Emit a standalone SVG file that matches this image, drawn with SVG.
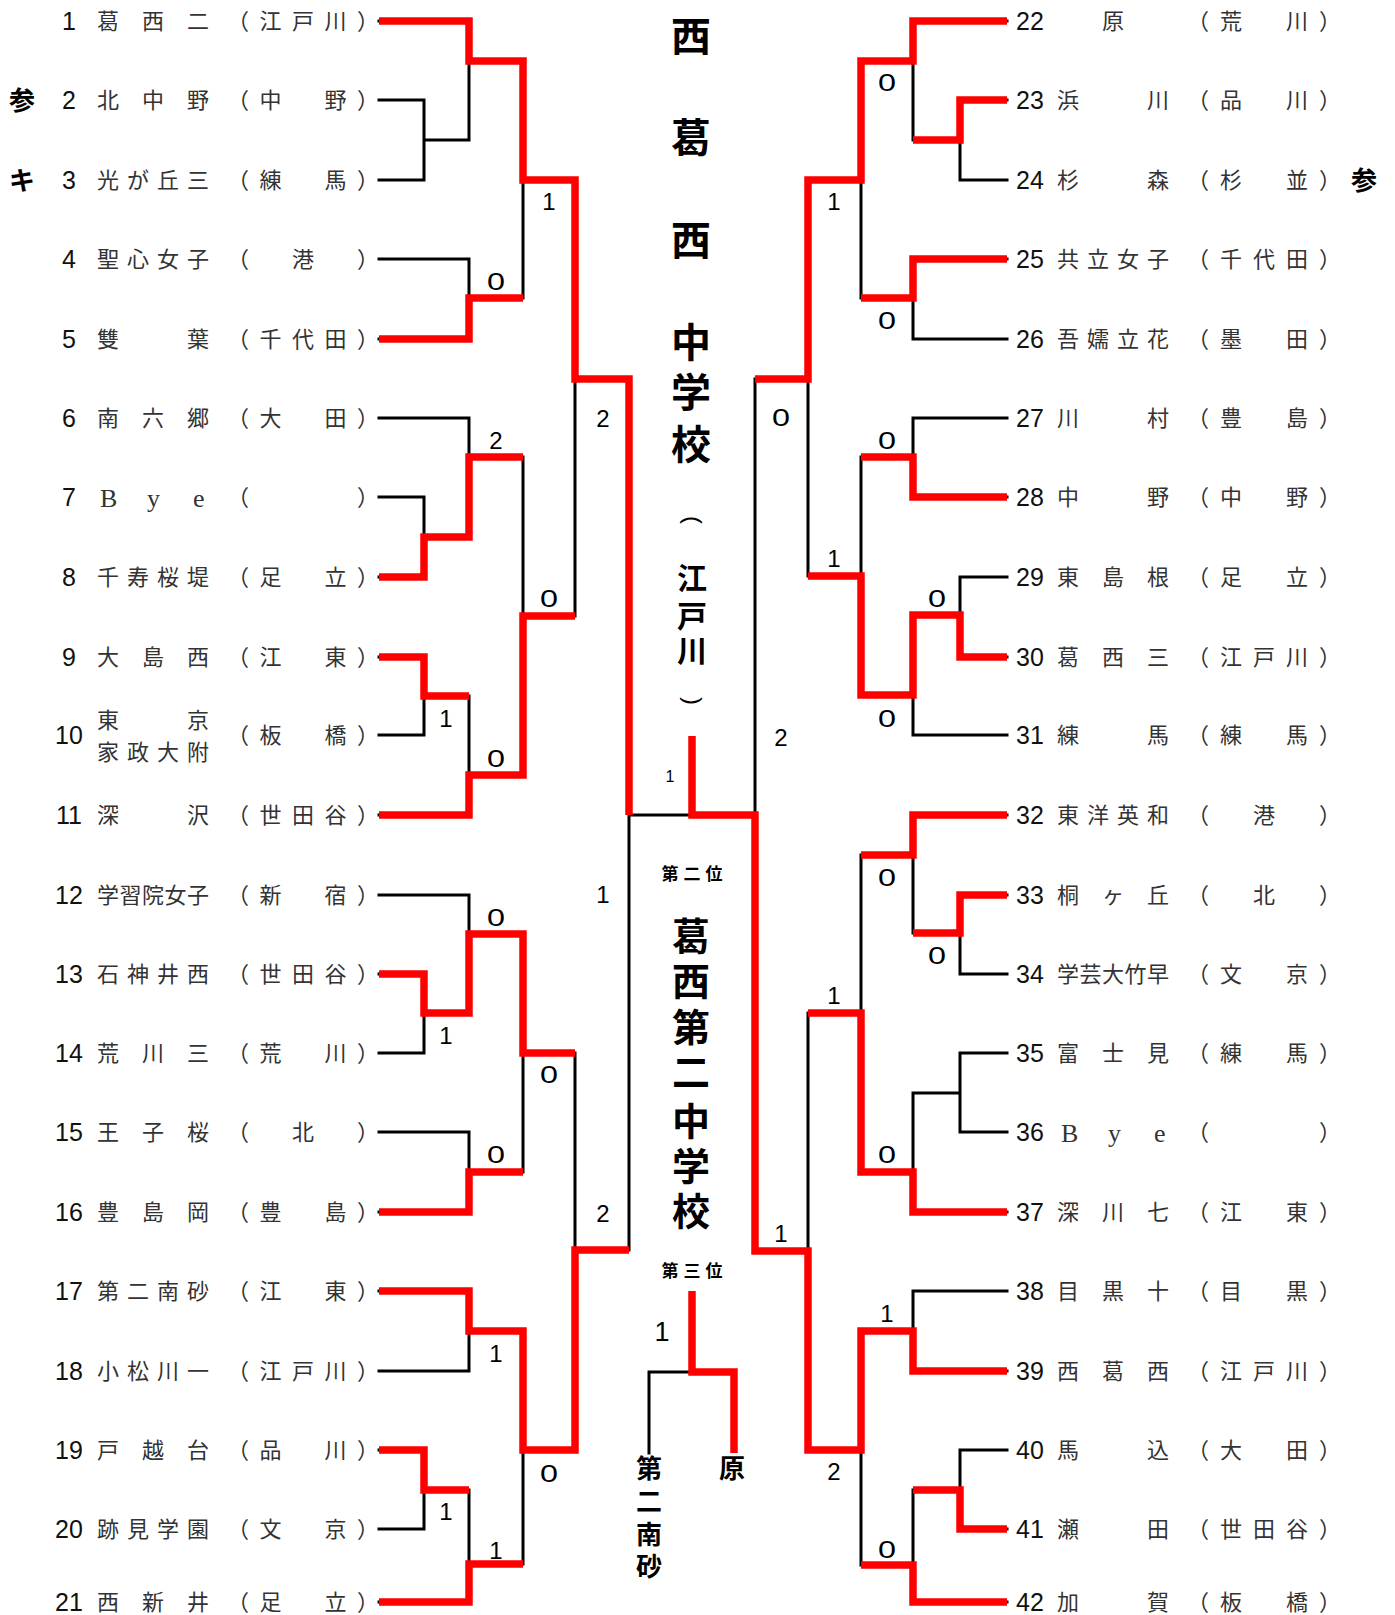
<svg xmlns="http://www.w3.org/2000/svg" width="1395" height="1615" viewBox="0 0 1395 1615">
<style>
.k{stroke:#000;stroke-width:3;fill:none;stroke-linecap:square}
.r{stroke:#f00;stroke-width:7.5;fill:none;stroke-linejoin:miter;stroke-linecap:butt}
.n{font-family:"Liberation Sans",Arial,sans-serif;font-size:25px;fill:#111;text-anchor:middle}
.j{font-family:"Noto Sans CJK JP",sans-serif;font-size:22px;fill:#333}
.b{font-family:"Liberation Serif",serif;font-size:26px;fill:#333}
.s{font-family:"Liberation Sans",Arial,sans-serif;font-size:24px;fill:#000;text-anchor:middle}
.t{font-family:"Noto Sans CJK JP",sans-serif;font-weight:bold;fill:#000;text-anchor:middle}
</style>
<rect width="1395" height="1615" fill="#fff"/>

<g id="connectors">
<path class="k" d="M379 21H469M379 100H424M379 180H424M379 259H469M379 339H469M379 418H469M379 497H424M379 577H424M379 657H424M379 735H424M379 815H469M379 895H469M379 974H424M379 1053H424M379 1132H469M379 1212H469M379 1291H469M379 1371H469M379 1450H424M379 1529H424M379 1602H469
M424 100V180M424 140H469M424 497V577M424 537H469M424 657V735M424 696H469M424 974V1053M424 1013H469M424 1450V1529M424 1490H469
M469 21V140M469 61H523M469 259V339M469 298H523M469 418V537M469 457H523M469 696V815M469 775H523M469 895V1013M469 934H523M469 1132V1212M469 1172H523M469 1291V1371M469 1331H523M469 1490V1602M469 1564H523
M523 61V298M523 180H575M523 457V775M523 616H575M523 934V1172M523 1053H575M523 1331V1564M523 1450H575
M575 180V616M575 379H629M575 1053V1450M575 1250H629
M629 379V1250M629 815H692"/>
<path class="k" d="M1007 21H913M1007 100H960M1007 180H960M1007 259H913M1007 339H913M1007 418H913M1007 497H913M1007 577H960M1007 657H960M1007 735H913M1007 815H913M1007 895H960M1007 974H960M1007 1053H960M1007 1132H960M1007 1212H913M1007 1291H913M1007 1371H913M1007 1450H960M1007 1529H960M1007 1602H913
M960 100V180M960 140H913M960 577V657M960 615H913M960 895V974M960 933H913M960 1053V1132M960 1093H913M960 1450V1529M960 1490H913
M913 21V140M913 61H861M913 259V339M913 298H861M913 418V497M913 457H861M913 615V735M913 695H861M913 815V933M913 855H861M913 1093V1212M913 1172H861M913 1291V1371M913 1331H861M913 1490V1602M913 1565H861
M861 61V298M861 180H808M861 457V695M861 576H808M861 855V1172M861 1013H808M861 1331V1565M861 1450H808
M808 180V576M808 379H755M808 1013V1450M808 1251H755
M755 379V1251M755 815H692"/>
<path class="k" d="M649 1453V1372H692"/>
<g id="winners">
<polyline class="r" points="379,21 469,21 469,61 523,61 523,180 575,180 575,379 629,379 629,815"/>
<polyline class="r" points="379,339 469,339 469,298 523,298"/>
<polyline class="r" points="379,577 424,577 424,537 469,537 469,457 523,457"/>
<polyline class="r" points="379,657 424,657 424,696 469,696"/>
<polyline class="r" points="379,815 469,815 469,775 523,775 523,616 575,616"/>
<polyline class="r" points="379,974 424,974 424,1013 469,1013 469,934 523,934 523,1053 575,1053"/>
<polyline class="r" points="379,1212 469,1212 469,1172 523,1172"/>
<polyline class="r" points="379,1291 469,1291 469,1331 523,1331 523,1450 575,1450 575,1250 629,1250"/>
<polyline class="r" points="379,1450 424,1450 424,1490 469,1490"/>
<polyline class="r" points="379,1602 469,1602 469,1564 523,1564"/>
<polyline class="r" points="1007,21 913,21 913,61 861,61 861,180 808,180 808,379 755,379"/>
<polyline class="r" points="1007,100 960,100 960,140 913,140"/>
<polyline class="r" points="1007,259 913,259 913,298 861,298"/>
<polyline class="r" points="1007,497 913,497 913,457 861,457"/>
<polyline class="r" points="1007,657 960,657 960,615 913,615 913,695 861,695 861,576 808,576"/>
<polyline class="r" points="1007,815 913,815 913,855 861,855"/>
<polyline class="r" points="1007,895 960,895 960,933 913,933"/>
<polyline class="r" points="1007,1212 913,1212 913,1172 861,1172 861,1013 808,1013"/>
<polyline class="r" points="1007,1371 913,1371 913,1331 861,1331 861,1450 808,1450 808,1251 755,1251 755,815 692,815 692,736"/>
<polyline class="r" points="1007,1529 960,1529 960,1490 913,1490"/>
<polyline class="r" points="1007,1602 913,1602 913,1565 861,1565"/>
<polyline class="r" points="734,1453 734,1372 692,1372 692,1291"/>
</g>
</g>

<g id="scores">
<text class="s" x="549" y="210">1</text>
<text class="s" x="496" y="290" textLength="18" lengthAdjust="spacingAndGlyphs">0</text>
<text class="s" x="603" y="427">2</text>
<text class="s" x="496" y="449">2</text>
<text class="s" x="549" y="607" textLength="18" lengthAdjust="spacingAndGlyphs">0</text>
<text class="s" x="446" y="727">1</text>
<text class="s" x="496" y="767" textLength="18" lengthAdjust="spacingAndGlyphs">0</text>
<text class="s" x="603" y="903">1</text>
<text class="s" x="496" y="926" textLength="18" lengthAdjust="spacingAndGlyphs">0</text>
<text class="s" x="446" y="1044">1</text>
<text class="s" x="549" y="1083" textLength="18" lengthAdjust="spacingAndGlyphs">0</text>
<text class="s" x="496" y="1163" textLength="18" lengthAdjust="spacingAndGlyphs">0</text>
<text class="s" x="603" y="1222">2</text>
<text class="s" x="496" y="1362">1</text>
<text class="s" x="549" y="1482" textLength="18" lengthAdjust="spacingAndGlyphs">0</text>
<text class="s" x="446" y="1520">1</text>
<text class="s" x="496" y="1559">1</text>
<text class="s" x="887" y="91" textLength="18" lengthAdjust="spacingAndGlyphs">0</text>
<text class="s" x="834" y="210">1</text>
<text class="s" x="887" y="329" textLength="18" lengthAdjust="spacingAndGlyphs">0</text>
<text class="s" x="781" y="426" textLength="18" lengthAdjust="spacingAndGlyphs">0</text>
<text class="s" x="887" y="449" textLength="18" lengthAdjust="spacingAndGlyphs">0</text>
<text class="s" x="834" y="567">1</text>
<text class="s" x="937" y="607" textLength="18" lengthAdjust="spacingAndGlyphs">0</text>
<text class="s" x="887" y="727" textLength="18" lengthAdjust="spacingAndGlyphs">0</text>
<text class="s" x="781" y="746">2</text>
<text class="s" x="887" y="886" textLength="18" lengthAdjust="spacingAndGlyphs">0</text>
<text class="s" x="937" y="964" textLength="18" lengthAdjust="spacingAndGlyphs">0</text>
<text class="s" x="834" y="1004">1</text>
<text class="s" x="887" y="1163" textLength="18" lengthAdjust="spacingAndGlyphs">0</text>
<text class="s" x="781" y="1242">1</text>
<text class="s" x="887" y="1322">1</text>
<text class="s" x="834" y="1480">2</text>
<text class="s" x="887" y="1558" textLength="18" lengthAdjust="spacingAndGlyphs">0</text>
<text class="s" x="670" y="782" style="font-size:16px">1</text>
<text class="s" x="662" y="1341" style="font-size:27px">1</text>
</g>

<g id="champion">
<text class="t" style="font-size:40px" x="691 691 691 691 691 691" y="51 152 255 357 407 459">西葛西中学校</text>
<text class="t" style="font-size:24px;font-family:'Liberation Sans',sans-serif;font-weight:normal" transform="translate(691,520) rotate(90)" x="0" y="6">(</text>
<text class="t" style="font-size:30px" x="692 692 692" y="589 627 662">江戸川</text>
<text class="t" style="font-size:24px;font-family:'Liberation Sans',sans-serif;font-weight:normal" transform="translate(691,701) rotate(90)" x="0" y="6">)</text>
</g>
<g id="runner-up">
<text class="t" style="font-size:17px" x="670 692 714" y="880 880 880">第二位</text>
<text class="t" style="font-size:38px" x="691 691 691 691 691 691 691" y="950 995 1041 1086 1135 1180 1225">葛西第二中学校</text>
</g>
<g id="third-place">
<text class="t" style="font-size:17px" x="670 692 714" y="1277 1277 1277">第三位</text>
<text class="t" style="font-size:26px" x="649 649 649 649" y="1478 1511 1544 1576">第二南砂</text>
<text class="t" style="font-size:26px" x="732" y="1478">原</text>
</g>
<g id="marks">
<text class="t" style="font-size:26px" x="22" y="110">参</text>
<text class="t" style="font-size:26px" x="22" y="190">キ</text>
<text class="t" style="font-size:26px" x="1364" y="190">参</text>
</g>

<g id="team-1"><text class="n" x="69" y="30">1</text><text class="j" x="97 142 187" y="29">葛西二</text><text class="j" x="227 259.5 292 324.5 357" y="29">（江戸川）</text></g>
<g id="team-2"><text class="n" x="69" y="109">2</text><text class="j" x="97 142 187" y="108">北中野</text><text class="j" x="227 259.5 292 324.5 357" y="108">（中　野）</text></g>
<g id="team-3"><text class="n" x="69" y="189">3</text><text class="j" x="97 127 157 187" y="188">光が丘三</text><text class="j" x="227 259.5 292 324.5 357" y="188">（練　馬）</text></g>
<g id="team-4"><text class="n" x="69" y="268">4</text><text class="j" x="97 127 157 187" y="267">聖心女子</text><text class="j" x="227 259.5 292 324.5 357" y="267">（　港　）</text></g>
<g id="team-5"><text class="n" x="69" y="348">5</text><text class="j" x="97 187" y="347">雙葉</text><text class="j" x="227 259.5 292 324.5 357" y="347">（千代田）</text></g>
<g id="team-6"><text class="n" x="69" y="427">6</text><text class="j" x="97 142 187" y="426">南六郷</text><text class="j" x="227 259.5 292 324.5 357" y="426">（大　田）</text></g>
<g id="team-7"><text class="n" x="69" y="506">7</text><text class="b" x="100 147 193" y="507">Bye</text><text class="j" x="227 259.5 292 324.5 357" y="505">（　　　）</text></g>
<g id="team-8"><text class="n" x="69" y="586">8</text><text class="j" x="97 127 157 187" y="585">千寿桜堤</text><text class="j" x="227 259.5 292 324.5 357" y="585">（足　立）</text></g>
<g id="team-9"><text class="n" x="69" y="666">9</text><text class="j" x="97 142 187" y="665">大島西</text><text class="j" x="227 259.5 292 324.5 357" y="665">（江　東）</text></g>
<g id="team-10"><text class="n" x="69" y="744">10</text><text class="j" x="97 187" y="728">東京</text><text class="j" x="97 127 157 187" y="760">家政大附</text><text class="j" x="227 259.5 292 324.5 357" y="743">（板　橋）</text></g>
<g id="team-11"><text class="n" x="69" y="824">11</text><text class="j" x="97 187" y="823">深沢</text><text class="j" x="227 259.5 292 324.5 357" y="823">（世田谷）</text></g>
<g id="team-12"><text class="n" x="69" y="904">12</text><text class="j" x="97 119.5 142 164.5 187" y="903">学習院女子</text><text class="j" x="227 259.5 292 324.5 357" y="903">（新　宿）</text></g>
<g id="team-13"><text class="n" x="69" y="983">13</text><text class="j" x="97 127 157 187" y="982">石神井西</text><text class="j" x="227 259.5 292 324.5 357" y="982">（世田谷）</text></g>
<g id="team-14"><text class="n" x="69" y="1062">14</text><text class="j" x="97 142 187" y="1061">荒川三</text><text class="j" x="227 259.5 292 324.5 357" y="1061">（荒　川）</text></g>
<g id="team-15"><text class="n" x="69" y="1141">15</text><text class="j" x="97 142 187" y="1140">王子桜</text><text class="j" x="227 259.5 292 324.5 357" y="1140">（　北　）</text></g>
<g id="team-16"><text class="n" x="69" y="1221">16</text><text class="j" x="97 142 187" y="1220">豊島岡</text><text class="j" x="227 259.5 292 324.5 357" y="1220">（豊　島）</text></g>
<g id="team-17"><text class="n" x="69" y="1300">17</text><text class="j" x="97 127 157 187" y="1299">第二南砂</text><text class="j" x="227 259.5 292 324.5 357" y="1299">（江　東）</text></g>
<g id="team-18"><text class="n" x="69" y="1380">18</text><text class="j" x="97 127 157 187" y="1379">小松川一</text><text class="j" x="227 259.5 292 324.5 357" y="1379">（江戸川）</text></g>
<g id="team-19"><text class="n" x="69" y="1459">19</text><text class="j" x="97 142 187" y="1458">戸越台</text><text class="j" x="227 259.5 292 324.5 357" y="1458">（品　川）</text></g>
<g id="team-20"><text class="n" x="69" y="1538">20</text><text class="j" x="97 127 157 187" y="1537">跡見学園</text><text class="j" x="227 259.5 292 324.5 357" y="1537">（文　京）</text></g>
<g id="team-21"><text class="n" x="69" y="1611">21</text><text class="j" x="97 142 187" y="1610">西新井</text><text class="j" x="227 259.5 292 324.5 357" y="1610">（足　立）</text></g>

<g id="team-22"><text class="n" x="1030" y="30">22</text><text class="j" x="1102" y="29">原</text><text class="j" x="1187 1220 1253 1286 1319" y="29">（荒　川）</text></g>
<g id="team-23"><text class="n" x="1030" y="109">23</text><text class="j" x="1057 1147" y="108">浜川</text><text class="j" x="1187 1220 1253 1286 1319" y="108">（品　川）</text></g>
<g id="team-24"><text class="n" x="1030" y="189">24</text><text class="j" x="1057 1147" y="188">杉森</text><text class="j" x="1187 1220 1253 1286 1319" y="188">（杉　並）</text></g>
<g id="team-25"><text class="n" x="1030" y="268">25</text><text class="j" x="1057 1087 1117 1147" y="267">共立女子</text><text class="j" x="1187 1220 1253 1286 1319" y="267">（千代田）</text></g>
<g id="team-26"><text class="n" x="1030" y="348">26</text><text class="j" x="1057 1087 1117 1147" y="347">吾嬬立花</text><text class="j" x="1187 1220 1253 1286 1319" y="347">（墨　田）</text></g>
<g id="team-27"><text class="n" x="1030" y="427">27</text><text class="j" x="1057 1147" y="426">川村</text><text class="j" x="1187 1220 1253 1286 1319" y="426">（豊　島）</text></g>
<g id="team-28"><text class="n" x="1030" y="506">28</text><text class="j" x="1057 1147" y="505">中野</text><text class="j" x="1187 1220 1253 1286 1319" y="505">（中　野）</text></g>
<g id="team-29"><text class="n" x="1030" y="586">29</text><text class="j" x="1057 1102 1147" y="585">東島根</text><text class="j" x="1187 1220 1253 1286 1319" y="585">（足　立）</text></g>
<g id="team-30"><text class="n" x="1030" y="666">30</text><text class="j" x="1057 1102 1147" y="665">葛西三</text><text class="j" x="1187 1220 1253 1286 1319" y="665">（江戸川）</text></g>
<g id="team-31"><text class="n" x="1030" y="744">31</text><text class="j" x="1057 1147" y="743">練馬</text><text class="j" x="1187 1220 1253 1286 1319" y="743">（練　馬）</text></g>
<g id="team-32"><text class="n" x="1030" y="824">32</text><text class="j" x="1057 1087 1117 1147" y="823">東洋英和</text><text class="j" x="1187 1220 1253 1286 1319" y="823">（　港　）</text></g>
<g id="team-33"><text class="n" x="1030" y="904">33</text><text class="j" x="1057 1102 1147" y="903">桐ヶ丘</text><text class="j" x="1187 1220 1253 1286 1319" y="903">（　北　）</text></g>
<g id="team-34"><text class="n" x="1030" y="983">34</text><text class="j" x="1057 1079.5 1102 1124.5 1147" y="982">学芸大竹早</text><text class="j" x="1187 1220 1253 1286 1319" y="982">（文　京）</text></g>
<g id="team-35"><text class="n" x="1030" y="1062">35</text><text class="j" x="1057 1102 1147" y="1061">富士見</text><text class="j" x="1187 1220 1253 1286 1319" y="1061">（練　馬）</text></g>
<g id="team-36"><text class="n" x="1030" y="1141">36</text><text class="b" x="1061 1108 1154" y="1142">Bye</text><text class="j" x="1187 1220 1253 1286 1319" y="1140">（　　　）</text></g>
<g id="team-37"><text class="n" x="1030" y="1221">37</text><text class="j" x="1057 1102 1147" y="1220">深川七</text><text class="j" x="1187 1220 1253 1286 1319" y="1220">（江　東）</text></g>
<g id="team-38"><text class="n" x="1030" y="1300">38</text><text class="j" x="1057 1102 1147" y="1299">目黒十</text><text class="j" x="1187 1220 1253 1286 1319" y="1299">（目　黒）</text></g>
<g id="team-39"><text class="n" x="1030" y="1380">39</text><text class="j" x="1057 1102 1147" y="1379">西葛西</text><text class="j" x="1187 1220 1253 1286 1319" y="1379">（江戸川）</text></g>
<g id="team-40"><text class="n" x="1030" y="1459">40</text><text class="j" x="1057 1147" y="1458">馬込</text><text class="j" x="1187 1220 1253 1286 1319" y="1458">（大　田）</text></g>
<g id="team-41"><text class="n" x="1030" y="1538">41</text><text class="j" x="1057 1147" y="1537">瀬田</text><text class="j" x="1187 1220 1253 1286 1319" y="1537">（世田谷）</text></g>
<g id="team-42"><text class="n" x="1030" y="1611">42</text><text class="j" x="1057 1147" y="1610">加賀</text><text class="j" x="1187 1220 1253 1286 1319" y="1610">（板　橋）</text></g>
</svg>
